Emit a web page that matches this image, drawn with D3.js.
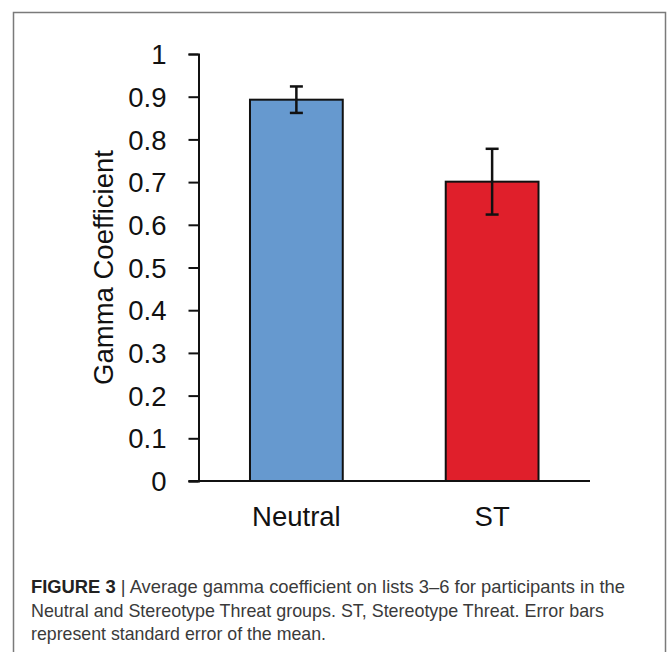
<!DOCTYPE html>
<html>
<head>
<meta charset="utf-8">
<script src="https://cdn.jsdelivr.net/npm/d3@7"></script>
<style>
  html, body { margin: 0; padding: 0; background: #fff; }
  svg { display: block; }
</style>
</head>
<body>
<svg id="chart" width="668" height="652"></svg>
<script>
// ---- data ----
const categories = ["Neutral", "ST"];
const means = [0.893, 0.701];
const stdErrors = [0.031, 0.077];
const barColors = ["#6699CF", "#E01F2B"];
const yTicks = [0, 0.1, 0.2, 0.3, 0.4, 0.5, 0.6, 0.7, 0.8, 0.9, 1];
const yTitle = "Gamma Coefficient";
const captionBold = "FIGURE 3";
const captionLines = [
  "Average gamma coefficient on lists 3–6 for participants in the",
  "Neutral and Stereotype Threat groups. ST, Stereotype Threat. Error bars",
  "represent standard error of the mean."
];

// ---- layout ----
const svg = d3.select("#chart");
const plot = { left: 198.5, right: 590, top: 54, bottom: 481 };
const font = "Liberation Sans, Arial, sans-serif";
const fs = 27.5;

// frame
svg.append("rect")
  .attr("x", 13.5).attr("y", 12.5)
  .attr("width", 652).attr("height", 700)
  .attr("fill", "none").attr("stroke", "#7a7a7a").attr("stroke-width", 1.5);

const x = d3.scaleBand().domain(categories).range([plot.left, plot.right]).padding(0);
const y = d3.scaleLinear().domain([0, 1]).range([plot.bottom, plot.top]);
const barW = x.bandwidth() * 0.474;

const g = svg.append("g");

// bars
g.selectAll("rect.bar").data(categories).join("rect")
  .attr("class", "bar")
  .attr("x", (d) => x(d) + x.bandwidth() / 2 - barW / 2)
  .attr("width", barW)
  .attr("y", (d, i) => y(means[i]))
  .attr("height", (d, i) => y(0) - y(means[i]))
  .attr("fill", (d, i) => barColors[i])
  .attr("stroke", "#111").attr("stroke-width", 2);

// error bars
const capW = 13;
categories.forEach((c, i) => {
  const cx = x(c) + x.bandwidth() / 2;
  const hi = y(means[i] + stdErrors[i]);
  const lo = y(means[i] - stdErrors[i]);
  const eg = g.append("g").attr("stroke", "#111").attr("stroke-width", 2.5);
  eg.append("line").attr("x1", cx).attr("x2", cx).attr("y1", hi).attr("y2", lo);
  eg.append("line").attr("x1", cx - capW / 2).attr("x2", cx + capW / 2).attr("y1", hi).attr("y2", hi);
  eg.append("line").attr("x1", cx - capW / 2).attr("x2", cx + capW / 2).attr("y1", lo).attr("y2", lo);
});

// y axis
const yAxis = d3.axisLeft(y).tickValues(yTicks)
  .tickFormat((d) => d === 0 ? "0" : d === 1 ? "1" : d3.format(".1f")(d))
  .tickSize(10).tickSizeOuter(10).tickPadding(22);
const ya = svg.append("g").attr("transform", `translate(${plot.left},0)`).call(yAxis);
ya.select(".domain").attr("stroke", "#111").attr("stroke-width", 2);
ya.selectAll(".tick line").attr("stroke", "#111").attr("stroke-width", 2);
ya.selectAll(".tick text")
  .attr("font-family", font)
  .attr("font-size", fs).attr("fill", "#111").attr("dy", "0.35em");

// x axis
const xAxis = d3.axisBottom(x).tickSize(0).tickPadding(25);
const xa = svg.append("g").attr("transform", `translate(0,${plot.bottom})`).call(xAxis);
xa.select(".domain")
  .attr("d", `M${plot.left - 10},0H${plot.right}`)
  .attr("stroke", "#111").attr("stroke-width", 2);
xa.selectAll(".tick text")
  .attr("font-family", font)
  .attr("font-size", fs).attr("fill", "#111").attr("dy", "0.71em");

// y title
svg.append("text")
  .attr("transform", `translate(113,${(plot.top + plot.bottom) / 2}) rotate(-90)`)
  .attr("text-anchor", "middle")
  .attr("font-family", font)
  .attr("font-size", fs).attr("fill", "#111")
  .text(yTitle);

// caption
const baselines = [593, 616.5, 640];
const widths = [594, 573, 295];
captionLines.forEach((line, i) => {
  const t = svg.append("text")
    .attr("x", 31).attr("y", baselines[i])
    .attr("font-family", font).attr("font-size", 18.5).attr("fill", "#3a3a3a");
  if (i === 0) {
    t.append("tspan").attr("font-weight", "bold").attr("fill", "#222").text(captionBold);
    t.append("tspan").text("  |  ");
  }
  t.append("tspan").text(line);
  t.attr("textLength", widths[i]).attr("lengthAdjust", "spacingAndGlyphs");
});
</script>
</body>
</html>
